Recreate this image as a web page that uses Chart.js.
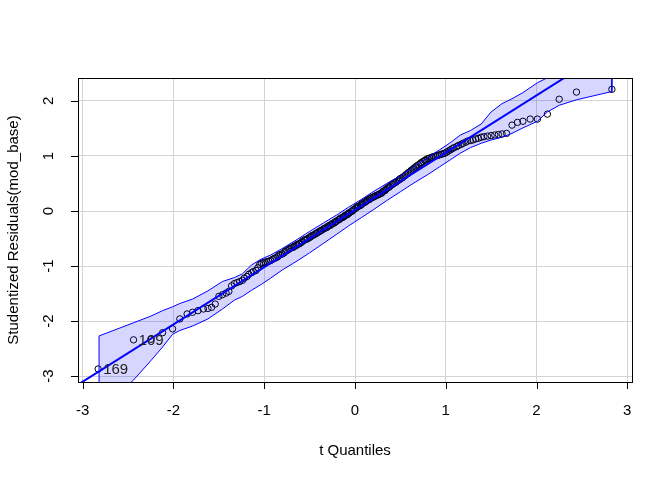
<!DOCTYPE html>
<html>
<head>
<meta charset="utf-8">
<script src="https://cdn.jsdelivr.net/npm/chart.js@4.4.0/dist/chart.umd.min.js"></script>
<style>
  html, body { margin: 0; padding: 0; background: #fff; }
  #wrap { width: 672px; height: 480px; }
</style>
</head>
<body>
<div id="wrap"><canvas id="qq" width="672" height="480"></canvas></div>
<script>
// t quantiles (x) and sorted studentized residuals (y)
const tQuantiles = [
  -2.83, -2.44, -2.25, -2.12, -2.01, -1.93, -1.85, -1.79, -1.73, -1.67,
  -1.62, -1.58, -1.54, -1.50, -1.46, -1.42, -1.39, -1.36, -1.33, -1.30,
  -1.27, -1.24, -1.22, -1.19, -1.17, -1.14, -1.12, -1.09, -1.07, -1.05,
  -1.03, -1.01, -0.99, -0.97, -0.95, -0.93, -0.91, -0.89, -0.87, -0.85,
  -0.84, -0.82, -0.80, -0.78, -0.77, -0.75, -0.73, -0.72, -0.70, -0.68,
  -0.67, -0.65, -0.64, -0.62, -0.61, -0.59, -0.58, -0.56, -0.55, -0.53,
  -0.52, -0.50, -0.49, -0.48, -0.46, -0.45, -0.43, -0.42, -0.41, -0.39,
  -0.38, -0.37, -0.35, -0.34, -0.33, -0.31, -0.30, -0.29, -0.27, -0.26,
  -0.25, -0.23, -0.22, -0.21, -0.20, -0.18, -0.17, -0.16, -0.14, -0.13,
  -0.12, -0.11, -0.09, -0.08, -0.07, -0.06, -0.04, -0.03, -0.02, -0.01,
  0.01, 0.02, 0.03, 0.04, 0.06, 0.07, 0.08, 0.09, 0.11, 0.12,
  0.13, 0.14, 0.16, 0.17, 0.18, 0.20, 0.21, 0.22, 0.23, 0.25,
  0.26, 0.27, 0.29, 0.30, 0.31, 0.33, 0.34, 0.35, 0.37, 0.38,
  0.39, 0.41, 0.42, 0.43, 0.45, 0.46, 0.48, 0.49, 0.50, 0.52,
  0.53, 0.55, 0.56, 0.58, 0.59, 0.61, 0.62, 0.64, 0.65, 0.67,
  0.68, 0.70, 0.72, 0.73, 0.75, 0.77, 0.78, 0.80, 0.82, 0.84,
  0.85, 0.87, 0.89, 0.91, 0.93, 0.95, 0.97, 0.99, 1.01, 1.03,
  1.05, 1.07, 1.09, 1.12, 1.14, 1.17, 1.19, 1.22, 1.24, 1.27,
  1.30, 1.33, 1.36, 1.39, 1.42, 1.46, 1.50, 1.54, 1.58, 1.62,
  1.67, 1.73, 1.79, 1.85, 1.93, 2.01, 2.12, 2.25, 2.44, 2.83
];
const residuals = [
  -2.87, -2.34, -2.33, -2.21, -2.14, -1.96, -1.87, -1.84, -1.81, -1.78,
  -1.77, -1.75, -1.69, -1.55, -1.52, -1.49, -1.46, -1.36, -1.32, -1.30,
  -1.28, -1.26, -1.22, -1.19, -1.15, -1.12, -1.10, -1.08, -1.03, -0.97,
  -0.95, -0.94, -0.93, -0.92, -0.91, -0.90, -0.88, -0.86, -0.85, -0.83,
  -0.80, -0.79, -0.78, -0.76, -0.73, -0.72, -0.70, -0.68, -0.67, -0.66,
  -0.64, -0.63, -0.61, -0.60, -0.59, -0.57, -0.55, -0.53, -0.52, -0.51,
  -0.50, -0.48, -0.47, -0.45, -0.44, -0.43, -0.41, -0.40, -0.39, -0.37,
  -0.36, -0.35, -0.33, -0.32, -0.31, -0.30, -0.28, -0.27, -0.26, -0.24,
  -0.23, -0.22, -0.20, -0.19, -0.18, -0.16, -0.15, -0.13, -0.12, -0.11,
  -0.10, -0.08, -0.07, -0.06, -0.04, -0.03, -0.01, 0.00, 0.02, 0.03,
  0.05, 0.07, 0.08, 0.09, 0.10, 0.12, 0.13, 0.15, 0.16, 0.17,
  0.19, 0.20, 0.21, 0.23, 0.24, 0.25, 0.26, 0.27, 0.28, 0.29,
  0.30, 0.31, 0.32, 0.34, 0.36, 0.37, 0.39, 0.41, 0.43, 0.44,
  0.46, 0.48, 0.49, 0.51, 0.52, 0.54, 0.56, 0.57, 0.59, 0.60,
  0.62, 0.64, 0.66, 0.68, 0.70, 0.72, 0.74, 0.76, 0.78, 0.80,
  0.82, 0.84, 0.86, 0.88, 0.90, 0.92, 0.93, 0.95, 0.96, 0.97,
  0.98, 0.99, 1.00, 1.01, 1.02, 1.03, 1.04, 1.05, 1.07, 1.09,
  1.11, 1.13, 1.15, 1.17, 1.19, 1.21, 1.23, 1.25, 1.27, 1.28,
  1.29, 1.31, 1.32, 1.34, 1.35, 1.36, 1.37, 1.38, 1.39, 1.40,
  1.41, 1.56, 1.61, 1.63, 1.67, 1.67, 1.76, 2.03, 2.16, 2.21
];

// simulated 95% envelope
const envX = [
  -2.82, -2.44, -2.25, -2.12, -2.01, -1.93, -1.79, -1.62, -1.46, -1.33,
  -1.24, -1.14, -1.03, -0.93, -0.80, -0.65, -0.50, -0.35, -0.20, -0.07,
  0.07, 0.20, 0.35, 0.50, 0.65, 0.80, 0.93, 1.05, 1.16, 1.27,
  1.39, 1.50, 1.62, 1.73, 1.85, 2.01, 2.12, 2.25, 2.44, 2.83
];
const envUpper = [
  -2.27, -2.03, -1.91, -1.81, -1.74, -1.68, -1.60, -1.45, -1.28, -1.21,
  -1.14, -0.98, -0.87, -0.80, -0.68, -0.53, -0.37, -0.22, -0.07, 0.07,
  0.21, 0.35, 0.50, 0.64, 0.81, 0.97, 1.11, 1.24, 1.38, 1.46,
  1.58, 1.80, 1.95, 2.04, 2.15, 2.33, 2.42, 2.56, 2.78, 3.30
];
const envLower = [
  -3.65, -3.07, -2.72, -2.47, -2.24, -2.17, -2.09, -1.96, -1.78, -1.62,
  -1.55, -1.44, -1.33, -1.22, -1.07, -0.92, -0.76, -0.59, -0.42, -0.27,
  -0.12, 0.02, 0.19, 0.35, 0.51, 0.66, 0.80, 0.93, 1.05, 1.15,
  1.23, 1.29, 1.34, 1.41, 1.51, 1.63, 1.80, 1.92, 2.02, 2.17
];

// reference line end points
const fitX = [-3.2, 3.2];
const fitY = [-3.308, 3.348];

const xTicks = [-3, -2, -1, 0, 1, 2, 3];
const yTicks = [-3, -2, -1, 0, 1, 2];

// identified observations (index into the sorted data)
const idLabels = ["169", "109"];
const idIndex = [0, 1];

const FONT = '15px "Liberation Sans", Arial, sans-serif';

const points = tQuantiles.map(function (v, i) { return { x: v, y: residuals[i] }; });
const band = [];
for (let i = 0; i < envX.length; i++) band.push({ x: envX[i], y: envUpper[i] });
for (let i = envX.length - 1; i >= 0; i--) band.push({ x: envX[i], y: envLower[i] });
band.push({ x: envX[0], y: envUpper[0] });
const fitLine = fitX.map(function (v, i) { return { x: v, y: fitY[i] }; });

const rDecor = {
  id: 'rDecor',
  afterDraw: function (chart) {
    const ctx = chart.ctx;
    const ca = chart.chartArea;
    const xs = chart.scales.x;
    const ys = chart.scales.y;
    ctx.save();
    ctx.strokeStyle = '#000';
    ctx.lineWidth = 1;
    ctx.strokeRect(Math.round(ca.left) + 0.5, Math.round(ca.top) + 0.5,
      Math.round(ca.right - ca.left), Math.round(ca.bottom - ca.top));

    ctx.fillStyle = '#000';
    ctx.font = FONT;
    ctx.beginPath();
    xTicks.forEach(function (v) {
      const px = Math.round(xs.getPixelForValue(v)) + 0.5;
      ctx.moveTo(px, ca.bottom);
      ctx.lineTo(px, ca.bottom + 7);
    });
    yTicks.forEach(function (v) {
      const py = Math.round(ys.getPixelForValue(v)) + 0.5;
      ctx.moveTo(ca.left, py);
      ctx.lineTo(ca.left - 7, py);
    });
    ctx.stroke();

    ctx.textAlign = 'center';
    ctx.textBaseline = 'middle';
    xTicks.forEach(function (v) {
      ctx.fillText(String(v), xs.getPixelForValue(v), 411);
    });
    yTicks.forEach(function (v) {
      ctx.save();
      ctx.translate(49, ys.getPixelForValue(v));
      ctx.rotate(-Math.PI / 2);
      ctx.fillText(String(v), 0, 0);
      ctx.restore();
    });

    ctx.fillText('t Quantiles', (ca.left + ca.right) / 2, 451);
    ctx.save();
    ctx.translate(14, (ca.top + ca.bottom) / 2);
    ctx.rotate(-Math.PI / 2);
    ctx.fillText('Studentized Residuals(mod_base)', 0, 0);
    ctx.restore();

    ctx.textAlign = 'left';
    ctx.fillStyle = '#222';
    idIndex.forEach(function (k, j) {
      const px = xs.getPixelForValue(tQuantiles[k]);
      const py = ys.getPixelForValue(residuals[k]);
      ctx.fillText(idLabels[j], px + 5, py + 1);
    });
    ctx.restore();
  }
};

new Chart(document.getElementById('qq'), {
  type: 'scatter',
  data: {
    datasets: [
      {
        data: fitLine,
        showLine: true,
        borderColor: '#0000ff',
        borderWidth: 2,
        pointRadius: 0,
        clip: 0
      },
      {
        data: band,
        showLine: true,
        fill: 'shape',
        backgroundColor: 'rgba(0, 0, 255, 0.16)',
        borderColor: '#0000ff',
        borderWidth: 1,
        pointRadius: 0,
        tension: 0,
        clip: 0
      },
      {
        data: points,
        pointStyle: 'circle',
        pointRadius: 3.2,
        borderColor: '#000',
        backgroundColor: 'rgba(0,0,0,0)',
        borderWidth: 1
      }
    ]
  },
  options: {
    responsive: false,
    animation: false,
    layout: { padding: { left: 0, right: 40, top: 78, bottom: 0 } },
    plugins: {
      legend: { display: false },
      tooltip: { enabled: false }
    },
    scales: {
      x: {
        type: 'linear',
        min: -3.052,
        max: 3.052,
        afterFit: function (s) { s.height = 98; },
        afterBuildTicks: function (s) { s.ticks = xTicks.map(function (v) { return { value: v }; }); },
        grid: { color: '#d3d3d3', lineWidth: 1, drawTicks: false },
        border: { display: false },
        ticks: { display: false }
      },
      y: {
        type: 'linear',
        min: -3.106,
        max: 2.416,
        afterFit: function (s) { s.width = 78; },
        afterBuildTicks: function (s) { s.ticks = yTicks.map(function (v) { return { value: v }; }); },
        grid: { color: '#d3d3d3', lineWidth: 1, drawTicks: false },
        border: { display: false },
        ticks: { display: false }
      }
    }
  },
  plugins: [rDecor]
});
</script>
</body>
</html>
